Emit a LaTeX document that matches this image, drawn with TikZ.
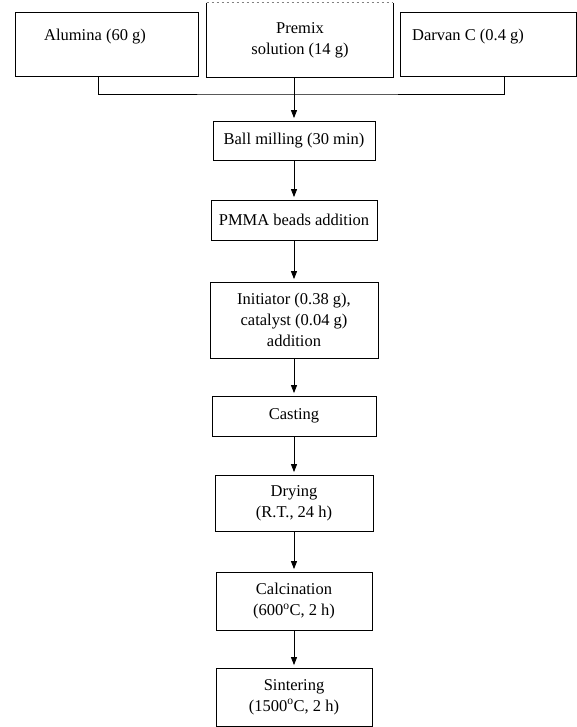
\documentclass[tikz,border=0pt]{standalone}
\usepackage{fontspec}
\setmainfont{Liberation Serif}
\usetikzlibrary{arrows.meta}
\begin{document}
\begin{tikzpicture}[x=1pt,y=-1pt,
  box/.style={draw, line width=0.8pt, inner sep=0pt, align=center,
    font=\fontsize{16.5}{21}\selectfont},
  lbl/.style={inner sep=0pt, align=center, font=\fontsize{16.5}{21}\selectfont},
  ln/.style={line width=0.8pt},
  flow/.style={-{Triangle[length=8pt,width=6pt]}, line width=0.8pt, shorten >=2.5pt}]
\useasboundingbox (0,0) rectangle (577,727);

% top row
\node[box, minimum width=183pt, minimum height=64pt] (alu) at (106.5,44) {};
\node[lbl] (alut) at (95,37) {Alumina (60 g)};
\node[box, draw=none, minimum width=186pt, minimum height=74pt] (premix) at (300,40) {Premix\\solution (14 g)};
\draw[ln] (premix.north west) -- (premix.south west) -- (premix.south east) -- (premix.north east);
\draw[line width=0.5pt, gray, dash pattern=on 2pt off 3pt] (premix.north west) -- (premix.north east);
\node[box, minimum width=176pt, minimum height=64pt] (dar) at (488,44) {};
\node[lbl] (dart) at (468,37) {Darvan C (0.4 g)};

\coordinate (bj) at (294,94);
\draw[ln] ([xshift=-8.5pt]alu.south) |- (bj) -| ([xshift=16pt]dar.south);

% process chain
\node[box, minimum width=162pt, minimum height=39pt] (ball) at (294,140.5) {Ball milling (30 min)};
\node[box, minimum width=166pt, minimum height=40pt] (pmma) at (294,220) {PMMA beads addition};
\node[box, minimum width=168pt, minimum height=76pt] (init) at (294,320) {Initiator (0.38 g),\\catalyst (0.04 g)\\addition};
\node[box, minimum width=164pt, minimum height=40pt] (cast) at (294,416) {Casting};
\node[box, minimum width=158pt, minimum height=56pt] (dry) at (294,503) {Drying\\(R.T., 24 h)};
\node[box, minimum width=156pt, minimum height=58pt] (calc) at (294,601) {Calcination\\(600\textsuperscript{o}C, 2 h)};
\node[box, minimum width=156pt, minimum height=58pt] (sint) at (294,697) {Sintering\\(1500\textsuperscript{o}C, 2 h)};

\draw[flow] (premix.south -| ball.north) -- (ball.north);
\draw[flow] (ball.south) -- (pmma.north);
\draw[flow] (pmma.south) -- (init.north);
\draw[flow] (init.south) -- (cast.north);
\draw[flow] (cast.south) -- (dry.north);
\draw[flow] (dry.south) -- (calc.north);
\draw[flow] (calc.south) -- (sint.north);
\end{tikzpicture}
\end{document}
